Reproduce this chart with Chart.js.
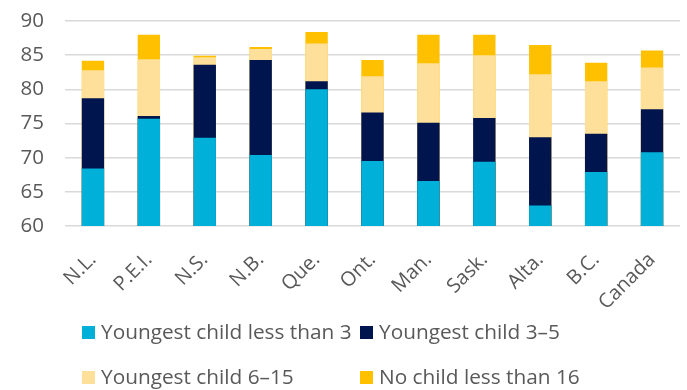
<!DOCTYPE html>
<html>
<head>
<meta charset="utf-8">
<script src="https://cdn.jsdelivr.net/npm/chart.js@4/dist/chart.umd.min.js"></script>
<style>
  html, body { margin: 0; padding: 0; background: #fff; }
  #wrap { position: relative; width: 687px; height: 390px; }
  #chart { display: block; width: 687px; height: 390px; }
  #legend { position: absolute; left: 0; top: 0; width: 687px; height: 390px; pointer-events: none;
            font-family: "Open Sans", sans-serif; font-size: 20.8px; color: #595959; }
  #legend .item { position: absolute; white-space: nowrap; line-height: 22px; }
  #legend .box { display: inline-block; width: 13px; height: 13px; margin-right: 6px; vertical-align: 0px; }
</style>
</head>
<body>
<div id="wrap">
  <canvas id="chart" width="687" height="390"></canvas>
  <div id="legend"></div>
</div>
<script>
//-----------------------------------------------------------------------------
// Data
//-----------------------------------------------------------------------------

var provinces = ['N.L.', 'P.E.I.', 'N.S.', 'N.B.', 'Que.', 'Ont.', 'Man.', 'Sask.', 'Alta.', 'B.C.', 'Canada'];

// rate for each group, per province (bars overlap, smallest in front)
var youngestUnder3  = [68.4, 75.7, 72.9, 70.4, 80.0, 69.5, 66.6, 69.4, 63.0, 67.9, 70.8];
var youngest3to5    = [78.7, 76.1, 83.6, 84.3, 81.2, 76.6, 75.1, 75.8, 73.0, 73.5, 77.1];
var youngest6to15   = [82.8, 84.4, 84.7, 85.9, 86.7, 81.9, 83.8, 85.0, 82.2, 81.2, 83.2];
var noChildUnder16  = [84.2, 88.0, 84.9, 86.2, 88.4, 84.3, 88.0, 88.0, 86.5, 83.9, 85.7];

var yTicks = [60, 65, 70, 75, 80, 85, 90];

var series = [
  {label: 'Youngest child less than 3', data: youngestUnder3, color: '#00B0D8'},
  {label: 'Youngest child 3\u20135',    data: youngest3to5,   color: '#00144E'},
  {label: 'Youngest child 6\u201315',   data: youngest6to15,  color: '#FFE09A'},
  {label: 'No child less than 16',      data: noChildUnder16, color: '#FFC000'}
];

//-----------------------------------------------------------------------------
// Chart
//-----------------------------------------------------------------------------

var font = {family: '"Open Sans", sans-serif', size: 20.5};

var chart = new Chart(document.getElementById('chart'), {
  type: 'bar',
  data: {
    labels: provinces,
    datasets: series.map(function(s) {
      return {
        label: s.label,
        data: s.data,
        backgroundColor: s.color,
        borderWidth: 0,
        categoryPercentage: 0.8,
        barPercentage: 0.5
      };
    })
  },
  options: {
    responsive: false,
    maintainAspectRatio: false,
    animation: false,
    layout: {padding: {top: 21, right: 7, bottom: 69, left: 0}},
    plugins: {
      legend: {display: false},
      tooltip: {enabled: false}
    },
    scales: {
      x: {
        stacked: true, // same slot for every series, y stays unstacked
        grid: {display: false},
        border: {display: false},
        ticks: {
          color: '#595959',
          font: {family: font.family, size: 20},
          minRotation: 45,
          maxRotation: 45,
          padding: 14
        },
        // tall enough that the rotated labels are not clipped
        afterFit: function(scale) { scale.height = 95; }
      },
      y: {
        stacked: false,
        min: yTicks[0],
        max: yTicks[yTicks.length - 1],
        grid: {color: '#D9D9D9', lineWidth: 1.5, drawTicks: false},
        border: {display: false},
        afterBuildTicks: function(scale) {
          scale.ticks = yTicks.map(function(v) { return {value: v}; });
        },
        ticks: {
          color: '#595959',
          font: font,
          padding: 21
        },
        afterFit: function(scale) {
          // fixed axis width; top/bottom room comes from layout padding
          scale.width = 65;
          scale.paddingTop = 0;
          scale.paddingBottom = 0;
        }
      }
    }
  }
});

//-----------------------------------------------------------------------------
// Legend (two fixed columns)
//-----------------------------------------------------------------------------

var legendPos = [[82, 320], [360, 320], [82, 365], [360, 365]];
var legend = document.getElementById('legend');
chart.data.datasets.forEach(function(ds, i) {
  var item = document.createElement('div');
  item.className = 'item';
  item.style.left = legendPos[i][0] + 'px';
  item.style.top = legendPos[i][1] + 'px';
  item.innerHTML = '<span class="box" style="background:' + ds.backgroundColor + '"></span>' + ds.label;
  legend.appendChild(item);
});
</script>
</body>
</html>
